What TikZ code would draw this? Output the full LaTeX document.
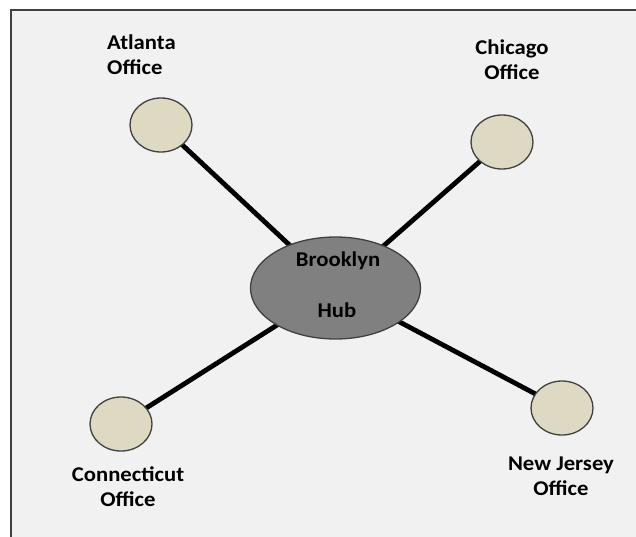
\documentclass[tikz,border=0pt]{standalone}
\usepackage{fontspec}
\setmainfont{Carlito}[BoldFeatures={FakeStretch=1.08}]
\usetikzlibrary{shapes.geometric}
\definecolor{bgfill}{HTML}{F1F1F1}
\definecolor{officefill}{HTML}{DDD9C3}
\definecolor{hubfill}{HTML}{808080}
\definecolor{edgegray}{HTML}{404040}
\tikzset{
  office/.style={ellipse, draw=edgegray, line width=1.3pt, fill=officefill,
    minimum width=62pt, minimum height=54pt, inner sep=0pt},
  hub/.style={ellipse, draw=edgegray, line width=1.3pt, fill=hubfill,
    minimum width=170pt, minimum height=102pt, inner sep=0pt},
  lbl/.style={font=\fontsize{21}{25}\selectfont\bfseries, text=black, align=center, inner sep=0pt},
  link/.style={line width=4.8pt, black}
}
\begin{document}
\begin{tikzpicture}[x=1pt,y=-1pt]
\useasboundingbox (0,0) rectangle (636,536);
\fill[white] (0,0) rectangle (636,536);
\path[fill=bgfill] (11,10) rectangle (640,540);
\draw[edgegray, line width=2pt] (11,545) -- (11,10) -- (645,10);
% nodes (coordinates for links)
\coordinate (hub) at (335.5,288);
\coordinate (atl) at (161,125);
\coordinate (chi) at (502,142);
\coordinate (con) at (121,424);
\coordinate (nj) at (562,408);
% links
\draw[link] (atl) -- (hub);
\draw[link] (chi) -- (hub);
\draw[link] (con) -- (hub);
\draw[link] (nj) -- (hub);
% shapes over links
\node[hub] (hubn) at (hub) {};
\node[office] (atln) at (atl) {};
\node[office] (chin) at (chi) {};
\node[office] (conn) at (con) {};
\node[office] (njn) at (nj) {};
% labels
\node[lbl, align=left, anchor=north west] (atlt) at (107,35) {Atlanta\\Office};
\node[lbl] (chit) at (512,60) {Chicago\\Office};
\node[lbl] (hubt1) at (338,261) {Brooklyn};
\node[lbl] (hubt2) at (337,310) {Hub};
\node[lbl] (cont) at (128,487) {Connecticut\\Office};
\node[lbl] (njt) at (561,476) {New Jersey\\Office};
\end{tikzpicture}
\end{document}
